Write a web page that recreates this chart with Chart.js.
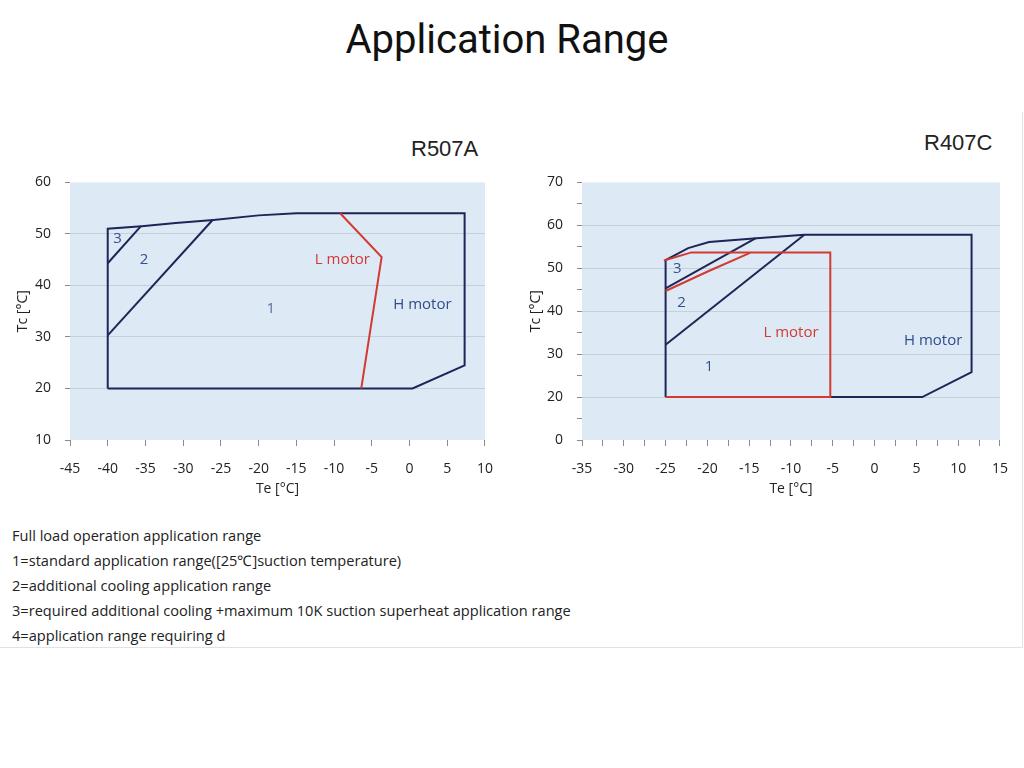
<!DOCTYPE html>
<html>
<head>
<meta charset="utf-8">
<script src="https://cdn.jsdelivr.net/npm/chart.js@4.4.1/dist/chart.umd.min.js"></script>
<style>
  html, body { margin: 0; padding: 0; background: #fff; }
  body { width: 1024px; height: 768px; position: relative; overflow: hidden; font-family: "Open Sans", sans-serif; }
  #title { position: absolute; left: 0; width: 1014px; top: 16px; text-align: center; font-family: Roboto, sans-serif; font-size: 40px; color: #111; }
  .frame { position: absolute; left: 0; top: 112px; width: 1022px; height: 535px; border-right: 1px solid #e2e2e2; border-bottom: 1px solid #e2e2e2; }
  .box { position: absolute; top: 160px; height: 340px; }
  .ref { position: absolute; font-family: "Liberation Sans", Arial, sans-serif; font-size: 22px; color: #222; }
  #notes { position: absolute; left: 12px; top: 523px; font-size: 14.6px; line-height: 25px; color: #222; }
</style>
</head>
<body>
<div id="title">Application Range</div>
<div class="frame"></div>
<div class="ref" style="left:411px; top:136px;">R507A</div>
<div class="ref" style="left:924px; top:130px;">R407C</div>
<div class="box" style="left:0; width:508px;"><canvas id="c1"></canvas></div>
<div class="box" style="left:512px; width:511px;"><canvas id="c2"></canvas></div>
<div id="notes">
  Full load operation application range<br>
  1=standard application range([25℃]suction temperature)<br>
  2=additional cooling application range<br>
  3=required additional cooling +maximum 10K suction superheat application range<br>
  4=application range requiring d
</div>
<script>
// R507A envelope (Te, Tc in °C)
var r507HTe = [-40, -40, -35.5, -31, -26, -20, -15, 7.3, 7.3, 0.4, -40];
var r507HTc = [20, 51, 51.5, 52.1, 52.7, 53.6, 54, 54, 24.5, 20, 20];
var r507Z3Te = [-40, -35.6];
var r507Z3Tc = [44.3, 51.5];
var r507Z2Te = [-40, -26.1];
var r507Z2Tc = [30.3, 52.7];
var r507LTe = [-9.2, -3.7, -6.4];
var r507LTc = [54, 45.5, 20];

// R407C envelope
var r407HTe = [-25, -25, -22.3, -19.8, -14.1, -8.4, 11.6, 11.6, 5.7, -25];
var r407HTc = [20, 51.9, 54.7, 56.1, 57, 57.8, 57.8, 25.8, 20, 20];
var r407Z3Te = [-25, -14.2];
var r407Z3Tc = [45.3, 57];
var r407Z2Te = [-25, -8.4];
var r407Z2Tc = [32.2, 57.8];
var r407LTe = [-25.2, -21.9, -5.3, -5.3, -25];
var r407LTc = [51.8, 53.7, 53.7, 20, 20];
var r407L3Te = [-25, -19.9, -14.9];
var r407L3Tc = [44.7, 49.3, 53.6];

var navy = '#1d2657';
var red = '#d23a32';

function pts(xs, ys) {
  return xs.map(function (x, i) { return { x: x, y: ys[i] }; });
}
function line(xs, ys, color) {
  return { data: pts(xs, ys), borderColor: color, borderWidth: 2, showLine: true, pointRadius: 0, fill: false };
}

var plotBg = {
  id: 'plotBg',
  beforeDraw: function (chart) {
    var a = chart.chartArea, ctx = chart.ctx;
    ctx.save();
    ctx.fillStyle = '#dde9f5';
    ctx.fillRect(a.left, a.top, a.right - a.left, a.bottom - a.top);
    ctx.restore();
  }
};

var zoneLabels = {
  id: 'zoneLabels',
  afterDatasetsDraw: function (chart, args, opts) {
    var ctx = chart.ctx;
    ctx.save();
    ctx.textAlign = 'center';
    ctx.textBaseline = 'middle';
    ctx.font = '15px "Open Sans", sans-serif';
    opts.items.forEach(function (it) {
      ctx.fillStyle = it.color;
      ctx.fillText(it.text, chart.scales.x.getPixelForValue(it.x), chart.scales.y.getPixelForValue(it.y));
    });
    ctx.restore();
  }
};

var tickFont = { family: '"Open Sans", sans-serif', size: 14 };

function makeChart(id, datasets, xr, yr, labels, yTitlePad) {
  return new Chart(document.getElementById(id), {
    type: 'scatter',
    data: { datasets: datasets },
    plugins: [plotBg, zoneLabels],
    options: {
      responsive: true,
      maintainAspectRatio: false,
      animation: false,
      layout: { padding: { top: 1, right: 1, left: 0, bottom: 0 } },
      plugins: {
        legend: { display: false },
        tooltip: { enabled: false },
        zoneLabels: { items: labels }
      },
      scales: {
        x: {
          type: 'linear', min: xr[0], max: xr[1],
          afterFit: function (s) { s.height = 60; },
          border: { display: false },
          grid: { drawOnChartArea: false, tickLength: 6, tickColor: '#8a8a8a' },
          ticks: {
            stepSize: xr[2], autoSkip: false, maxRotation: 0, padding: 15,
            color: '#222', font: tickFont,
            callback: function (v) { return v % 5 === 0 ? v : ''; }
          },
          title: { display: true, text: 'Te [°C]', color: '#222', font: tickFont, padding: { top: 0, bottom: 3 } }
        },
        y: {
          type: 'linear', min: yr[0], max: yr[1],
          afterFit: function (s) { s.width = 70; },
          border: { display: false },
          grid: {
            tickLength: 5, tickColor: '#8a8a8a',
            color: function (c) {
              var v = c.tick && c.tick.value;
              return (v % 10 === 0 && v > yr[0] && v < yr[1]) ? '#c6d0da' : 'rgba(0,0,0,0)';
            }
          },
          ticks: {
            stepSize: yr[2], autoSkip: false, padding: 14,
            color: '#222', font: tickFont,
            callback: yr[3]
          },
          title: { display: true, text: 'Tc [°C]', color: '#222', font: tickFont, padding: { top: yTitlePad, bottom: 0 } }
        }
      }
    }
  });
}

makeChart('c1', [
  line(r507LTe, r507LTc, red),
  line(r507HTe, r507HTc, navy),
  line(r507Z3Te, r507Z3Tc, navy),
  line(r507Z2Te, r507Z2Tc, navy)
], [-45, 10, 5], [10, 60, 10, function (v) { return v; }], [
  { text: '3', x: -38.7, y: 49, color: '#34508f' },
  { text: '2', x: -35.2, y: 45, color: '#34508f' },
  { text: '1', x: -18.4, y: 35.5, color: '#5a6f96' },
  { text: 'L motor', x: -8.9, y: 45, color: red },
  { text: 'H motor', x: 1.7, y: 36.3, color: '#2f4c8c' }
], 15);

makeChart('c2', [
  line(r407LTe, r407LTc, red),
  line(r407L3Te, r407L3Tc, red),
  line(r407HTe, r407HTc, navy),
  line(r407Z3Te, r407Z3Tc, navy),
  line(r407Z2Te, r407Z2Tc, navy)
], [-35, 15, 2.5], [10, 70, 5, function (v) { return v % 10 !== 0 ? '' : (v === 10 ? '0' : v); }], [
  { text: '3', x: -23.6, y: 50, color: '#34508f' },
  { text: '2', x: -23.1, y: 42, color: '#34508f' },
  { text: '1', x: -19.8, y: 27, color: '#34508f' },
  { text: 'L motor', x: -10, y: 35.1, color: red },
  { text: 'H motor', x: 7, y: 33.1, color: '#2f4c8c' }
], 16);
</script>
</body>
</html>
